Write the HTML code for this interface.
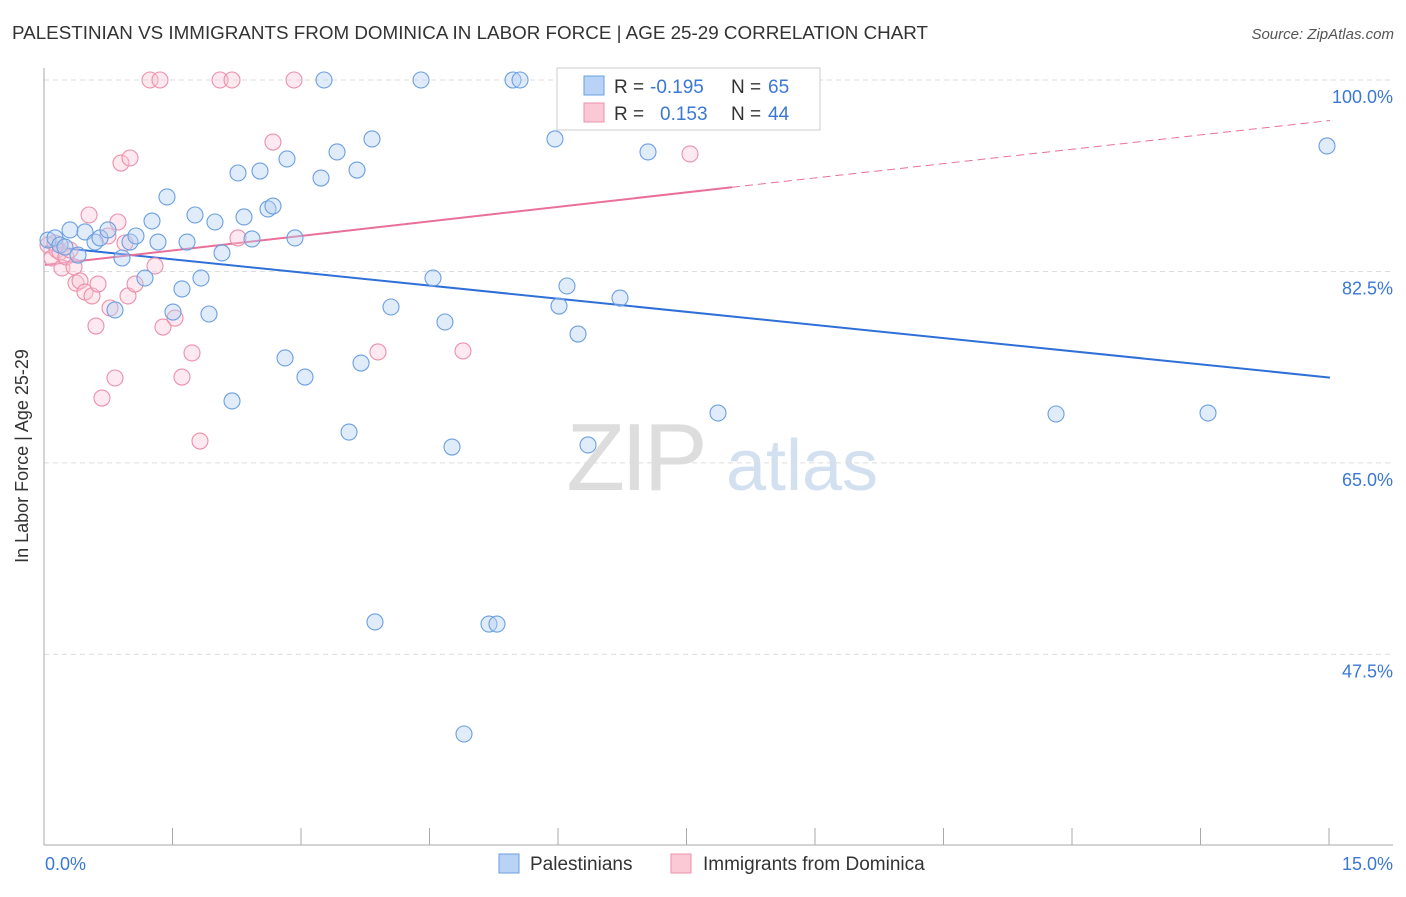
<!DOCTYPE html>
<html><head><meta charset="utf-8">
<style>
body{margin:0;background:#fff;font-family:"Liberation Sans",sans-serif;}
svg text{font-family:"Liberation Sans",sans-serif;}
</style></head>
<body>
<svg id="chart" width="1406" height="892" xmlns="http://www.w3.org/2000/svg">
<text x="12" y="39" font-size="18" fill="#333" textLength="916" lengthAdjust="spacingAndGlyphs">PALESTINIAN VS IMMIGRANTS FROM DOMINICA IN LABOR FORCE | AGE 25-29 CORRELATION CHART</text>
<text x="1394" y="39" font-size="15" fill="#555" text-anchor="end" font-style="italic">Source: ZipAtlas.com</text>
<g>
<text x="635" y="490" font-size="96" fill="#ddd" text-anchor="middle" font-family="Liberation Serif" letter-spacing="-4">ZIP</text>
<text x="802" y="490" font-size="72" fill="#d3e0f0" text-anchor="middle">atlas</text>
</g>
<g id="grid"></g>
<line x1="44" y1="68" x2="44" y2="845" stroke="#aaa"/>
<line x1="44" y1="845" x2="1393" y2="845" stroke="#aaa"/>
<g id="ticks"></g>
<text x="28" y="456" font-size="18" fill="#333" text-anchor="middle" transform="rotate(-90 28 456)">In Labor Force | Age 25-29</text>
<text x="45" y="870" font-size="18" fill="#3a78d4">0.0%</text>
<text x="1393" y="870" font-size="18" fill="#3a78d4" text-anchor="end">15.0%</text>
<g id="trends"></g>
<g id="points"></g>
<g>
<rect x="557" y="68" width="263" height="62" fill="#fff" stroke="#ccc"/>
<rect x="584" y="76" width="20" height="19" fill="#b8d3f5" stroke="#6a9fe0"/>
<rect x="584" y="103" width="20" height="19" fill="#fbc8d6" stroke="#ec8fab"/>
<text x="614" y="93" font-size="19" fill="#333">R =</text>
<text x="650" y="93" font-size="19" fill="#3a78d4">-0.195</text>
<text x="731" y="93" font-size="19" fill="#333">N =</text>
<text x="768" y="93" font-size="19" fill="#3a78d4">65</text>
<text x="614" y="120" font-size="19" fill="#333">R =</text>
<text x="660" y="120" font-size="19" fill="#3a78d4">0.153</text>
<text x="731" y="120" font-size="19" fill="#333">N =</text>
<text x="768" y="120" font-size="19" fill="#3a78d4">44</text>
</g>
<g>
<rect x="499" y="854" width="20" height="19" fill="#b8d3f5" stroke="#6a9fe0"/>
<text x="530" y="870" font-size="19" fill="#333">Palestinians</text>
<rect x="671" y="854" width="20" height="19" fill="#fbc8d6" stroke="#ec8fab"/>
<text x="703" y="870" font-size="19" fill="#333">Immigrants from Dominica</text>
</g>
</svg>
<script>
const yTicks=[100,82.5,65,47.5];
const yTickLabels=["100.0%","82.5%","65.0%","47.5%"];
const xTicks=[0,1.5,3,4.5,6,7.5,9,10.5,12,13.5,15];
const bluePx=[[48,240],[55,238],[60,245],[65,247],[70,230],[78,255],[85,232],[95,242],[100,238],[108,230],[115,310],[122,258],[130,242],[136,236],[145,278],[152,221],[158,242],[167,197],[173,312],[182,289],[187,242],[195,215],[201,278],[209,314],[215,222],[222,253],[232,401],[238,173],[244,217],[252,239],[260,171],[268,209],[273,206],[285,358],[287,159],[295,238],[305,377],[321,178],[324,80],[337,152],[349,432],[357,170],[361,363],[372,139],[375,622],[391,307],[421,80],[433,278],[445,322],[452,447],[464,734],[489,624],[497,624],[513,80],[520,80],[555,139],[559,306],[567,286],[578,334],[588,445],[620,298],[648,152],[718,413],[1056,414],[1208,413],[1327,146]];
const pinkPx=[[48,245],[52,258],[55,243],[57,250],[60,252],[62,268],[66,257],[70,250],[74,267],[76,283],[80,281],[85,292],[89,215],[92,296],[96,326],[98,284],[102,398],[108,236],[110,308],[115,378],[118,222],[121,163],[125,243],[128,296],[130,158],[135,284],[150,80],[155,266],[160,80],[163,327],[175,318],[182,377],[192,353],[200,441],[220,80],[232,80],[238,238],[273,142],[294,80],[378,352],[463,351],[690,154]];
const blueX=bluePx.map(p=>+((p[0]-45)/1285*15).toFixed(3));
const blueY=bluePx.map(p=>+(100-(p[1]-80)/10.94).toFixed(2));
const pinkX=pinkPx.map(p=>+((p[0]-45)/1285*15).toFixed(3));
const pinkY=pinkPx.map(p=>+(100-(p[1]-80)/10.94).toFixed(2));
const blueTrend=[[0,84.8],[15,72.8]];
const pinkTrend=[[0,83.1],[8.02,90.2],[15,96.3]];

const NS="http://www.w3.org/2000/svg";
const xs=v=>45+v/15*1285;
const ys=v=>80+(100-v)*10.94;
function mk(tag,attrs,parent){const e=document.createElementNS(NS,tag);for(const k in attrs)e.setAttribute(k,attrs[k]);document.getElementById(parent).appendChild(e);return e;}
yTicks.forEach((t,i)=>{
 const l=mk('line',{x1:44,x2:1393,y1:ys(t),y2:ys(t),stroke:'#ddd','stroke-dasharray':'5,4'},'grid');
 
 
 const tx=mk('text',{x:1393,y:ys(t)+23,'font-size':18,fill:'#3a78d4','text-anchor':'end'},'grid');
 tx.textContent=yTickLabels[i];
 
 
});
xTicks.forEach(t=>{
 const l=mk('line',{x1:xs(t)-1,x2:xs(t)-1,y1:828,y2:845,stroke:'#aaa'},'ticks');
 
 
});
function dots(X,Y,fill,stroke,name){
 X.forEach((x,i)=>{
  const c=mk('circle',{cx:xs(x),cy:ys(Y[i]),r:8,fill:fill,'fill-opacity':0.4,stroke:stroke,'stroke-width':1.1},'points');
  
  
 });
}
dots(pinkX,pinkY,'#fbc8d6','#ec8fab','point-dominica');
dots(blueX,blueY,'#b3cff2','#6a9fe0','point-palestinian');
let bl=mk('line',{x1:xs(blueTrend[0][0]),y1:ys(blueTrend[0][1]),x2:xs(blueTrend[1][0]),y2:ys(blueTrend[1][1]),stroke:'#2f6fd8','stroke-width':2},'trends');


let pl=mk('line',{x1:xs(pinkTrend[0][0]),y1:ys(pinkTrend[0][1]),x2:xs(pinkTrend[1][0]),y2:ys(pinkTrend[1][1]),stroke:'#e8709a','stroke-width':2},'trends');


let pd=mk('line',{x1:xs(pinkTrend[1][0]),y1:ys(pinkTrend[1][1]),x2:xs(pinkTrend[2][0]),y2:ys(pinkTrend[2][1]),stroke:'#e8709a','stroke-width':1,'stroke-dasharray':'8,5'},'trends');


</script>
</body></html>
